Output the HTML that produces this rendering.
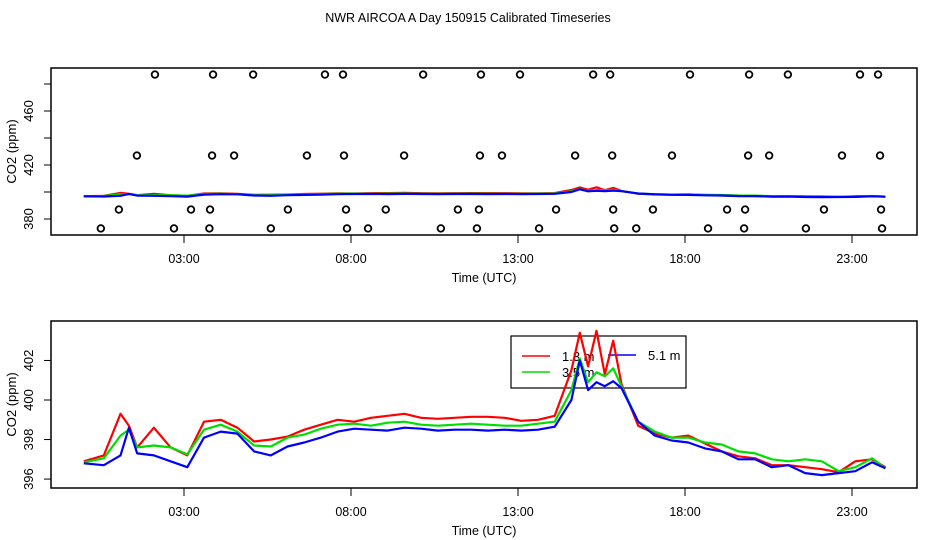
<!DOCTYPE html>
<html><head><meta charset="utf-8"><style>
html,body{margin:0;padding:0;background:#fff;}
svg{display:block;font-family:"Liberation Sans",sans-serif;}
</style></head><body>
<svg id="chart" width="936" height="540" viewBox="0 0 936 540">
<text x="468" y="22" text-anchor="middle" font-size="12.5">NWR AIRCOA A  Day 150915  Calibrated Timeseries</text>
<g id="top"></g>
<g id="bot"></g>
</svg>
<script>
const times = [0,0.6,1.1,1.35,1.6,2.1,2.6,3.1,3.6,4.1,4.6,5.1,5.6,6.1,6.6,7.1,7.6,8.1,8.6,9.1,9.6,10.1,10.6,11.1,11.6,12.1,12.6,13.1,13.6,14.1,14.6,14.85,15.1,15.35,15.6,15.85,16.1,16.6,17.1,17.6,18.1,18.6,19.1,19.6,20.1,20.6,21.1,21.6,22.1,22.6,23.1,23.6,24.0];
const red13 = [396.9,397.2,399.3,398.7,397.6,398.6,397.6,397.2,398.9,399.0,398.6,397.9,398.0,398.15,398.5,398.75,399.0,398.9,399.1,399.2,399.3,399.1,399.05,399.1,399.15,399.15,399.1,398.95,399.0,399.2,401.5,403.4,401.7,403.5,401.3,403.0,400.8,398.7,398.3,398.1,398.2,397.8,397.4,397.15,397.05,396.7,396.7,396.6,396.5,396.35,396.9,397.0,396.6];
const green35 = [396.85,397.05,398.2,398.5,397.6,397.7,397.6,397.25,398.5,398.75,398.4,397.7,397.65,398.1,398.25,398.55,398.75,398.8,398.7,398.85,398.9,398.75,398.7,398.75,398.8,398.75,398.7,398.7,398.8,398.9,400.5,402.1,400.9,401.4,401.2,401.6,400.7,398.9,398.4,398.1,398.1,397.85,397.75,397.4,397.3,397.0,396.9,397.0,396.9,396.4,396.6,397.05,396.55];
const blue51 = [396.8,396.7,397.2,398.6,397.3,397.2,396.9,396.6,398.1,398.4,398.3,397.4,397.2,397.65,397.85,398.1,398.4,398.55,398.5,398.45,398.6,398.55,398.45,398.5,398.5,398.45,398.5,398.45,398.5,398.65,400.0,402.0,400.5,400.9,400.7,400.95,400.6,398.9,398.2,397.95,397.85,397.55,397.4,397.0,397.0,396.6,396.7,396.3,396.2,396.3,396.4,396.85,396.55];
const flagTimes = [2.13,3.87,5.07,7.22,7.76,10.16,11.89,13.06,15.25,15.76,18.15,19.92,21.08,23.24,23.78,
 1.59,3.84,4.50,6.68,7.79,9.59,11.86,12.52,14.71,15.82,17.61,19.89,20.52,22.70,23.84,
 1.05,3.21,3.78,6.11,7.85,9.04,11.20,11.83,14.14,15.85,17.04,19.26,19.80,22.16,23.87,
 0.51,2.70,3.76,5.60,7.88,8.51,10.69,11.77,13.63,15.88,16.54,18.69,19.77,21.62,23.90];
const flagValues = [487,487,487,487,487,487,487,487,487,487,487,487,487,487,487,
 427,427,427,427,427,427,427,427,427,427,427,427,427,427,427,
 387,387,387,387,387,387,387,387,387,387,387,387,387,387,387,
 373,373,373,373,373,373,373,373,373,373,373,373,373,373,373];
const xTickHours = [3,8,13,18,23];
const xTickLabels = ["03:00","08:00","13:00","18:00","23:00"];
const topTicks = [380,400,420,440,460,480];
const topLabels = ["380","420","460"];
const botTicks = [396,398,400,402];

const NS="http://www.w3.org/2000/svg";
function mk(parent,tag,attrs){const e=document.createElementNS(NS,tag);for(const k in attrs)e.setAttribute(k,attrs[k]);parent.appendChild(e);return e;}
const xs = h => 83.8 + 33.4*h;
const yTop = v => 219 - (v-380)*1.35;
const yBot = v => 400 - (v-400)*19.77;

function panel(g, top, bottom, yfn, ticks, labels, name){
  const box = mk(g,'rect',{x:51,y:top,width:866,height:bottom-top,fill:'none',stroke:'#000','stroke-width':1.5});
  
  
  xTickHours.forEach((h,i)=>{
    const t=mk(g,'line',{x1:xs(h),x2:xs(h),y1:bottom,y2:bottom+8,stroke:'#000','stroke-width':1});
    
    
    const l=mk(g,'text',{x:xs(h),y:bottom+28,'text-anchor':'middle','font-size':12.5});
    l.textContent=xTickLabels[i];
    
    
  });
  ticks.forEach(v=>{
    const t=mk(g,'line',{x1:44,x2:51,y1:yfn(v),y2:yfn(v),stroke:'#000','stroke-width':1});
    
    
  });
  labels.forEach(s=>{
    const v=parseFloat(s);
    const l=mk(g,'text',{x:0,y:0,'text-anchor':'middle','font-size':13,transform:`translate(33,${yfn(v)}) rotate(-90)`});
    l.textContent=s;
    
    
  });
  const xt=mk(g,'text',{x:484,y:bottom+47,'text-anchor':'middle','font-size':12.5});
  xt.textContent='Time (UTC)';
  
  
  const yt=mk(g,'text',{x:0,y:0,'text-anchor':'middle','font-size':13,transform:`translate(16,${(top+bottom)/2}) rotate(-90)`});
  yt.textContent='CO2 (ppm)';
  
  
}
function series(g,vals,yfn,color,name){
  const d=times.map((t,i)=>(i?'L':'M')+xs(t).toFixed(1)+','+yfn(vals[i]).toFixed(1)).join(' ');
  const p=mk(g,'path',{d:d,fill:'none',stroke:color,'stroke-width':2.2,'stroke-linejoin':'round'});
  
  
}
const gt=document.getElementById('top'), gb=document.getElementById('bot');
panel(gt,68,235,yTop,topTicks,topLabels,'top');
panel(gb,321,488,yBot,botTicks,["396","398","400","402"],'bottom');

series(gt,red13,yTop,'#ff0000','top-series-1-3m');
series(gt,green35,yTop,'#00dd00','top-series-3-5m');
series(gt,blue51,yTop,'#0000ff','top-series-5-1m');
flagTimes.forEach((h,i)=>{
  const c=mk(gt,'circle',{cx:xs(h),cy:yTop(flagValues[i]),r:3.3,fill:'none',stroke:'#000','stroke-width':1.8});
  
  
});

// legend (drawn beneath the series, as in the reference)
const lg=mk(gb,'g',{});


const lb=mk(lg,'rect',{x:511,y:336,width:175,height:52,fill:'#fff',stroke:'#000','stroke-width':1.2});


const entries=[["1.3 m","#ff0000",522,356],["3.5 m","#00dd00",522,372],["5.1 m","#0000ff",608,355]];
entries.forEach(e=>{
  const ln=mk(lg,'line',{x1:e[2],x2:e[2]+28,y1:e[3],y2:e[3],stroke:e[1],'stroke-width':1.5});
  
  
  const tx=mk(lg,'text',{x:e[2]+40,y:e[3]+5,'font-size':13});
  tx.textContent=e[0];
  
  
});

series(gb,red13,yBot,'#ff0000','series-1-3m');
series(gb,green35,yBot,'#00dd00','series-3-5m');
series(gb,blue51,yBot,'#0000ff','series-5-1m');
</script>
</body></html>
